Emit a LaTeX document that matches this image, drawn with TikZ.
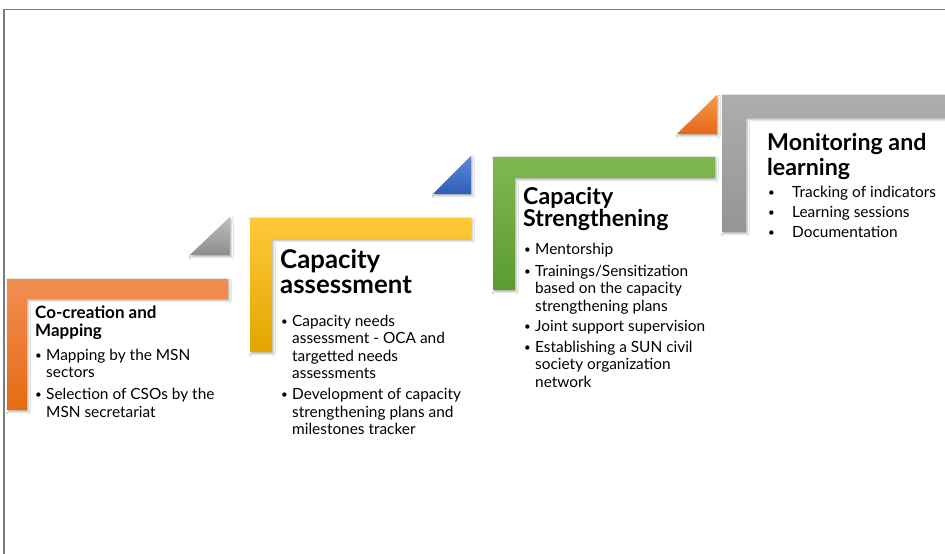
\documentclass[tikz,border=0pt]{standalone}
\usepackage{fontspec}
\usepackage{graphicx}
\setmainfont{Lato}
\usetikzlibrary{shadows.blur}

\definecolor{frameline}{HTML}{7A7A7A}
\definecolor{orTop}{HTML}{F28E52}\definecolor{orBot}{HTML}{E56B14}
\definecolor{yeTop}{HTML}{FFC93A}\definecolor{yeBot}{HTML}{E2A500}
\definecolor{grTop}{HTML}{7DB94F}\definecolor{grBot}{HTML}{5C9B30}
\definecolor{gyTop}{HTML}{ADADAD}\definecolor{gyBot}{HTML}{959595}
\definecolor{tgTop}{HTML}{BDBDBD}\definecolor{tgBot}{HTML}{8E8E8E}
\definecolor{tbTop}{HTML}{5B8BE0}\definecolor{tbBot}{HTML}{2F5DB5}
\definecolor{toTop}{HTML}{F59A4A}\definecolor{toBot}{HTML}{E5691A}

% small bullet followed by a fixed gap
\newcommand\bul[1]{\makebox[#1][l]{\raisebox{0.6pt}{\scalebox{0.75}{•}}}}

\begin{document}
\begin{tikzpicture}[x=1pt,y=-1pt,
  stepshadow/.style={blur shadow={shadow xshift=1.2pt,shadow yshift=-1.8pt,
      shadow blur radius=2pt,shadow opacity=30}},
  ttlA/.style={anchor=base west,inner sep=0pt,font=\fontsize{17}{18}\selectfont\bfseries},
  ttlB/.style={anchor=base west,inner sep=0pt,font=\fontsize{25.8}{25}\selectfont\bfseries},
  ttlC/.style={anchor=base west,inner sep=0pt,font=\fontsize{23.2}{20}\selectfont\bfseries},
  itm/.style={anchor=base west,inner sep=0pt,font=\fontsize{15.4}{17}\selectfont}]

\useasboundingbox (0,0) rectangle (945,554);
\clip (0,0) rectangle (945,554);
\fill[white] (0,0) rectangle (945,554);

% outer frame (top and left only)
\draw[frameline,line width=1.2pt] (4,554) -- (4,9.5) -- (946,9.5);

% step 1: orange corner and grey marker
\shade[stepshadow,top color=orTop,bottom color=orBot]
  (7,279) -- (228,279) -- (228,299) -- (27,299) -- (27,410) -- (7,410) -- cycle;
\shade[stepshadow,top color=tgTop,bottom color=tgBot]
  (190,255) -- (230,255) -- (230,217) -- cycle;

% step 2: yellow corner and blue marker
\shade[stepshadow,top color=yeTop,bottom color=yeBot]
  (250,218) -- (471,218) -- (471,239) -- (272,239) -- (272,352) -- (250,352) -- cycle;
\shade[stepshadow,top color=tbTop,bottom color=tbBot]
  (433,194) -- (471,194) -- (471,156) -- cycle;

% step 3: green corner and orange marker
\shade[stepshadow,top color=grTop,bottom color=grBot]
  (493,157) -- (715,157) -- (715,178) -- (515,178) -- (515,290) -- (493,290) -- cycle;
\shade[stepshadow,top color=toTop,bottom color=toBot]
  (677,134) -- (717,134) -- (717,95) -- cycle;

% step 4: grey corner running off the right edge
\shade[stepshadow,top color=gyTop,bottom color=gyBot]
  (722,95) -- (960,95) -- (960,118) -- (746,118) -- (746,232) -- (722,232) -- cycle;

% step 1 text
\node[ttlA] (s1t1) at (35,318) {Co-creation and};
\node[ttlA] (s1t2) at (35,336) {Mapping};
\node[itm] (s1a1) at (35,360) {\bul{11pt}Mapping by the MSN};
\node[itm] (s1a2) at (46,377.5) {sectors};
\node[itm] (s1b1) at (35,399.5) {\bul{11pt}Selection of CSOs by the};
\node[itm] (s1b2) at (46,417) {MSN secretariat};

% step 2 text
\node[ttlB] (s2t1) at (280,268) {Capacity};
\node[ttlB] (s2t2) at (280,293.5) {assessment};
\node[itm] (s2a1) at (281,326) {\bul{11pt}Capacity needs};
\node[itm] (s2a2) at (292,343.5) {assessment - OCA and};
\node[itm] (s2a3) at (292,361) {targetted needs};
\node[itm] (s2a4) at (292,378.5) {assessments};
\node[itm] (s2b1) at (281,399.5) {\bul{11pt}Development of capacity};
\node[itm] (s2b2) at (292,417) {strengthening plans and};
\node[itm] (s2b3) at (292,434.5) {milestones tracker};

% step 3 text
\node[ttlC] (s3t1) at (523,204) {Capacity};
\node[ttlC] (s3t2) at (523,226) {Strengthening};
\node[itm] (s3a1) at (524,254.5) {\bul{11pt}Mentorship};
\node[itm] (s3b1) at (524,276) {\bul{11pt}Trainings/Sensitization};
\node[itm] (s3b2) at (535,293.5) {based on the capacity};
\node[itm] (s3b3) at (535,311) {strengthening plans};
\node[itm] (s3c1) at (524,331.5) {\bul{11pt}Joint support supervision};
\node[itm] (s3d1) at (524,352) {\bul{11pt}Establishing a SUN civil};
\node[itm] (s3d2) at (535,369.5) {society organization};
\node[itm] (s3d3) at (535,387) {network};

% step 4 text
\node[ttlC] (s4t1) at (767,150) {Monitoring and};
\node[ttlC] (s4t2) at (767,175) {learning};
\node[itm] (s4a1) at (768,197) {\bul{24pt}Tracking of indicators};
\node[itm] (s4b1) at (768,217) {\bul{24pt}Learning sessions};
\node[itm] (s4c1) at (768,237) {\bul{24pt}Documentation};
\end{tikzpicture}
\end{document}
